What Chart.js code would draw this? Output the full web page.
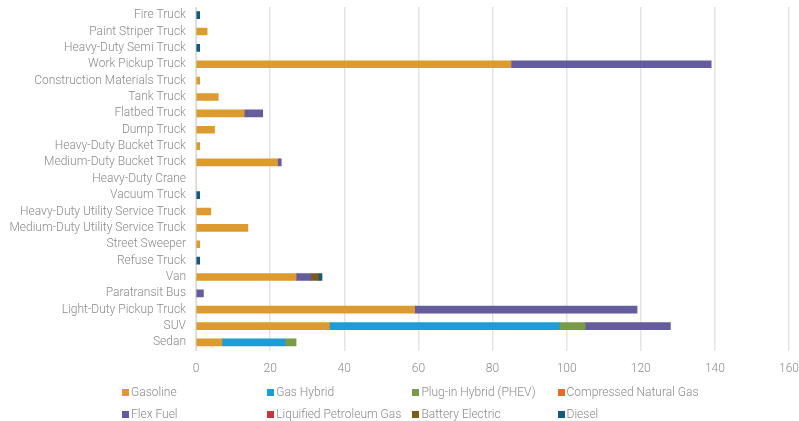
<!DOCTYPE html>
<html>
<head>
<meta charset="utf-8">
<script src="https://cdn.jsdelivr.net/npm/chart.js@4/dist/chart.umd.min.js"></script>
<style>
    html, body { margin: 0; padding: 0; background: #fff; overflow: hidden; width: 799px; height: 421px; }
    #wrap { position: absolute; left: 0; top: 0; width: 810px; height: 387px; }
    #legend { position: absolute; left: 122px; top: 384px; display: grid; grid-template-columns: repeat(4, 145.2px); row-gap: 6px;
        font-family: Roboto, sans-serif; font-weight: 300; font-size: 12px; color: #8a8a8a; }
    #legend span.item { display: flex; align-items: center; white-space: nowrap; height: 16px; }
    #legend i { display: inline-block; flex-shrink: 0; width: 7px; height: 7px; margin-right: 2px; }
</style>
</head>
<body>
<div id="wrap"><canvas id="fleetChart"></canvas></div>
<div id="legend"></div>
<script>
const categories = ["Fire Truck", "Paint Striper Truck", "Heavy-Duty Semi Truck", "Work Pickup Truck",
    "Construction Materials Truck", "Tank Truck", "Flatbed Truck", "Dump Truck", "Heavy-Duty Bucket Truck",
    "Medium-Duty Bucket Truck", "Heavy-Duty Crane", "Vacuum Truck", "Heavy-Duty Utility Service Truck",
    "Medium-Duty Utility Service Truck", "Street Sweeper", "Refuse Truck", "Van", "Paratransit Bus",
    "Light-Duty Pickup Truck", "SUV", "Sedan"];

const gasoline    = [0, 3, 0, 85, 1, 6, 13, 5, 1, 22, 0, 0, 4, 14, 1, 0, 27, 0, 59, 36, 7];
const gasHybrid   = [0, 0, 0, 0, 0, 0, 0, 0, 0, 0, 0, 0, 0, 0, 0, 0, 0, 0, 0, 62, 17];
const pluginPhev  = [0, 0, 0, 0, 0, 0, 0, 0, 0, 0, 0, 0, 0, 0, 0, 0, 0, 0, 0, 7, 3];
const cng         = [0, 0, 0, 0, 0, 0, 0, 0, 0, 0, 0, 0, 0, 0, 0, 0, 0, 0, 0, 0, 0];
const flexFuel    = [0, 0, 0, 54, 0, 0, 5, 0, 0, 1, 0, 0, 0, 0, 0, 0, 4, 2, 60, 23, 0];
const lpg         = [0, 0, 0, 0, 0, 0, 0, 0, 0, 0, 0, 0, 0, 0, 0, 0, 0, 0, 0, 0, 0];
const battery     = [0, 0, 0, 0, 0, 0, 0, 0, 0, 0, 0, 0, 0, 0, 0, 0, 2, 0, 0, 0, 0];
const diesel      = [1, 0, 1, 0, 0, 0, 0, 0, 0, 0, 0, 1, 0, 0, 0, 1, 1, 0, 0, 0, 0];

const xTicks = [0, 20, 40, 60, 80, 100, 120, 140, 160];

const series = [
    { label: "Gasoline", data: gasoline, color: "#db9b2e" },
    { label: "Gas Hybrid", data: gasHybrid, color: "#1e9cd6" },
    { label: "Plug-in Hybrid (PHEV)", data: pluginPhev, color: "#799b48" },
    { label: "Compressed Natural Gas", data: cng, color: "#e8692a" },
    { label: "Flex Fuel", data: flexFuel, color: "#655c9e" },
    { label: "Liquified Petroleum Gas", data: lpg, color: "#c8363b" },
    { label: "Battery Electric", data: battery, color: "#7e5918" },
    { label: "Diesel", data: diesel, color: "#15597e" },
];

Chart.defaults.font.family = "Roboto, sans-serif";
Chart.defaults.font.weight = "300";
Chart.defaults.font.size = 12;
Chart.defaults.color = "#8a8a8a";

const ctx = document.getElementById("fleetChart");

const chart = new Chart(ctx, {
    type: "bar",
    data: {
        labels: categories,
        datasets: series.map(s => ({
            label: s.label,
            // zero counts draw nothing (avoids a hairline at the axis)
            data: s.data.map(v => (v === 0 ? null : v)),
            backgroundColor: s.color,
            barThickness: 7,
            borderWidth: 0,
        })),
    },
    options: {
        indexAxis: "y",
        responsive: true,
        maintainAspectRatio: false,
        animation: false,
        layout: { padding: 0 },
        plugins: {
            legend: { display: false },
            tooltip: { enabled: false },
        },
        scales: {
            x: {
                stacked: true,
                min: 0,
                max: 160,
                afterBuildTicks: (scale) => { scale.ticks = xTicks.map(v => ({ value: v })); },
                ticks: { padding: 11, color: "#8a8a8a" },
                grid: { color: "#e4e4e4", lineWidth: 1.5, drawTicks: false },
                border: { display: false },
            },
            y: {
                stacked: true,
                afterFit: (scale) => {
                    scale.width = 196;
                    // labels sit in their bands, no need for the extra overhang room
                    scale.paddingTop = 7;
                    scale.paddingBottom = 0;
                },
                ticks: { padding: 10, color: "#8a8a8a", autoSkip: false },
                grid: { display: false, drawTicks: false },
                border: { display: true, color: "#d9d9d9", width: 1 },
            },
        },
    },
});

// legend in four fixed columns, like the original
const legendEl = document.getElementById("legend");
chart.data.datasets.forEach(ds => {
    const item = document.createElement("span");
    item.className = "item";
    item.innerHTML = '<i style="background:' + ds.backgroundColor + '"></i>' + ds.label;
    legendEl.appendChild(item);
});
</script>
</body>
</html>
